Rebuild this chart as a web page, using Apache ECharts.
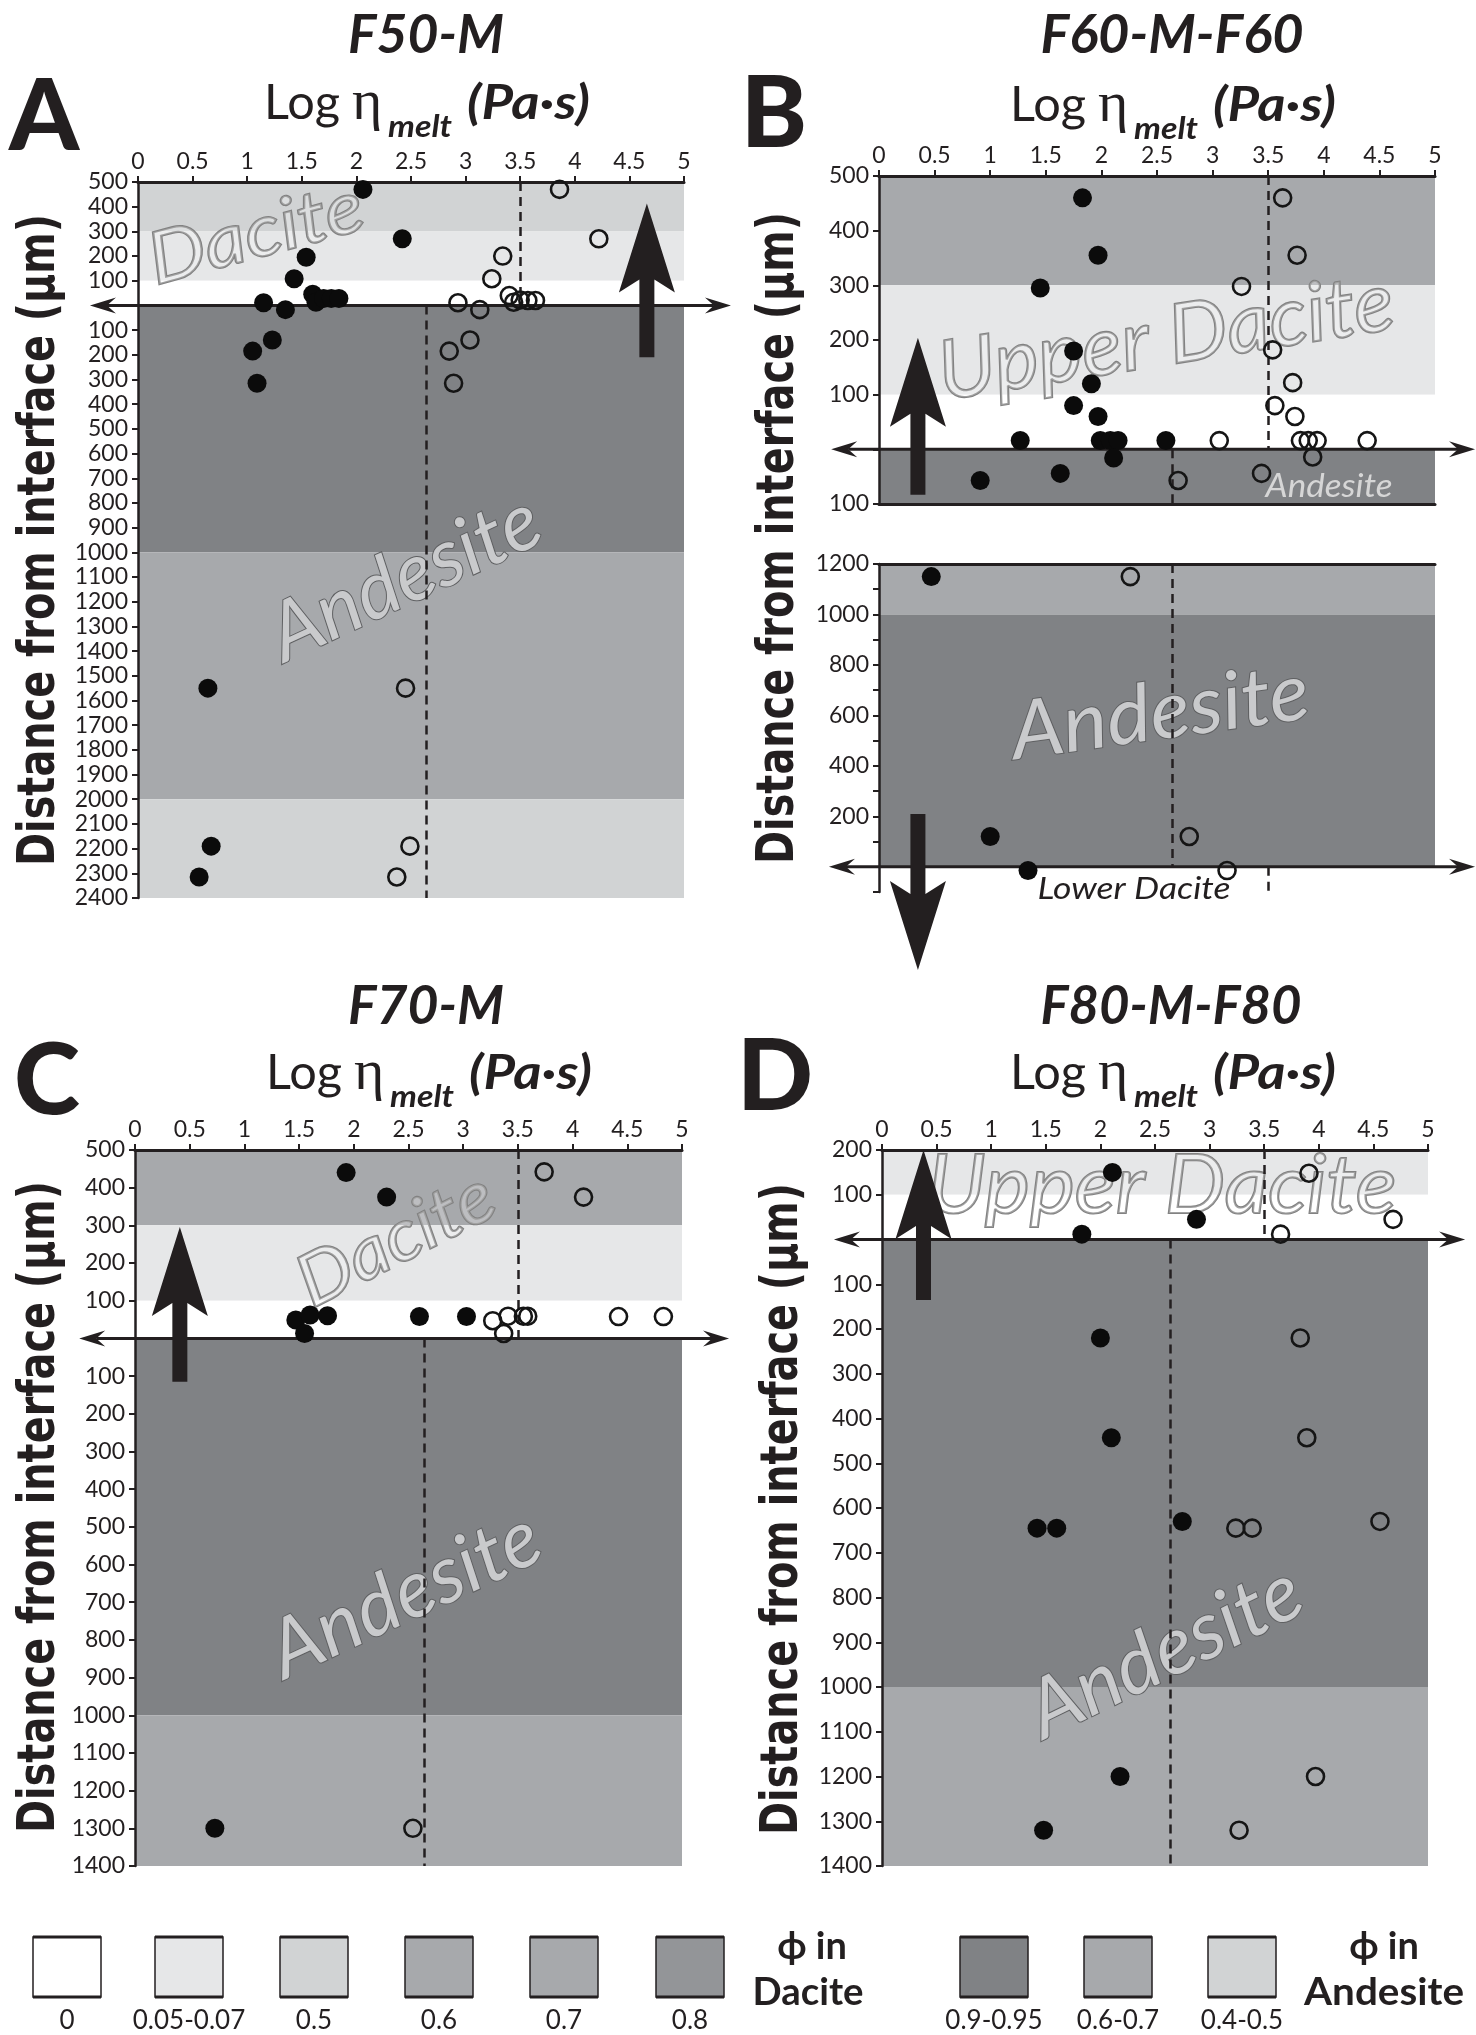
<!DOCTYPE html>
<html><head><meta charset="utf-8">
<script src="https://cdn.jsdelivr.net/npm/echarts@6/dist/echarts.min.js"></script>
<style>html,body{margin:0;padding:0;background:#fff}#c{width:1476px;height:2035px}</style>
</head><body><div id="c"></div>
<script>
// ================= DATA =================
const panelIds = ['A', 'Bu', 'Bl', 'C', 'D'];
const panelTitles = ['F50-M', 'F60-M-F60', 'F70-M', 'F80-M-F80'];
const panelLetters = ['A', 'B', 'C', 'D'];
const xTitleMain = 'Log η';
const xTitleSub = 'melt';
const xTitleUnit = '(Pa·s)';
const yTitle = 'Distance from interface (μm)';

const xRange = [0, 5];
const xStep = 0.5;
const yStep = 100;
const yRangeA = [-2400, 500];
const yRangeBu = [-100, 500];
const yRangeBl = [-100, 1200];
const yRangeC = [-1400, 500];
const yRangeD = [-1400, 200];

// viscosity thresholds (dashed lines)
const daciteLimit = 3.5;
const andesiteLimit = 2.64;

// legend keys (crystal fraction)
const daciteKeys = ['0', '0.05-0.07', '0.5', '0.6', '0.7', '0.8'];
const andesiteKeys = ['0.9-0.95', '0.6-0.7', '0.4-0.5'];

// bands: [from, to, rock, phi key]
const bandsA = [[500, 300, 'D', '0.5'], [300, 100, 'D', '0.05-0.07'], [100, 0, 'D', '0'],
  [0, -1000, 'A', '0.9-0.95'], [-1000, -2000, 'A', '0.6-0.7'], [-2000, -2400, 'A', '0.4-0.5']];
const bandsBu = [[500, 300, 'D', '0.6'], [300, 100, 'D', '0.05-0.07'], [100, 0, 'D', '0'], [0, -100, 'A', '0.9-0.95']];
const bandsBl = [[1200, 1000, 'A', '0.6-0.7'], [1000, 0, 'A', '0.9-0.95'], [0, -100, 'D', '0']];
const bandsC = [[500, 300, 'D', '0.7'], [300, 100, 'D', '0.05-0.07'], [100, 0, 'D', '0'],
  [0, -1000, 'A', '0.9-0.95'], [-1000, -1400, 'A', '0.6-0.7']];
const bandsD = [[200, 100, 'D', '0.05-0.07'], [100, 0, 'D', '0'], [0, -1000, 'A', '0.9-0.95'], [-1000, -1400, 'A', '0.6-0.7']];

// dashed threshold segments: [x, yFrom, yTo]
const dashA = [[daciteLimit, 500, 0], [andesiteLimit, 0, -2400]];
const dashBu = [[daciteLimit, 500, 0], [andesiteLimit, 0, -100]];
const dashBl = [[andesiteLimit, 1200, 0], [daciteLimit, 0, -100]];
const dashC = [[daciteLimit, 500, 0], [andesiteLimit, 0, -1400]];
const dashD = [[daciteLimit, 200, 0], [andesiteLimit, 0, -1400]];

// points: [log viscosity, distance (+ dacite side, - andesite side)]
const filledA = [[2.06, 470], [2.42, 270], [1.54, 195], [1.43, 108], [1.15, 11], [1.35, -17], [1.60, 45], [1.63, 13],
  [1.70, 28], [1.77, 28], [1.84, 28], [1.23, -140], [1.05, -185], [1.09, -315], [0.64, -1550], [0.67, -2190], [0.56, -2315]];
const openA = [[3.86, 470], [4.22, 270], [3.34, 200], [3.24, 108], [2.93, 11], [3.13, -17], [3.40, 40], [3.44, 13],
  [3.50, 22], [3.57, 20], [3.64, 20], [3.04, -140], [2.85, -185], [2.89, -315], [2.45, -1550], [2.49, -2190], [2.37, -2315]];

const filledBu = [[1.83, 460], [1.97, 355], [1.45, 295], [1.75, 180], [1.91, 120], [1.75, 80], [1.97, 60], [1.27, 16],
  [1.99, 16], [2.08, 16], [2.15, 16], [2.58, 16], [2.11, -16], [1.63, -44], [0.91, -57]];
const openBu = [[3.63, 460], [3.76, 355], [3.26, 298], [3.54, 182], [3.72, 122], [3.56, 80], [3.74, 60], [3.06, 16],
  [3.79, 16], [3.86, 16], [3.94, 16], [4.39, 16], [3.90, -14], [3.44, -44], [2.69, -57]];

const filledBl = [[0.47, 1150], [1.00, 120], [1.34, -15]];
const openBl = [[2.26, 1150], [2.79, 120], [3.13, -15]];

const filledC = [[1.93, 440], [2.30, 375], [1.47, 49], [1.60, 62], [1.76, 60], [1.55, 13], [2.60, 58], [3.03, 58], [0.73, -1300]];
const openC = [[3.74, 442], [4.10, 375], [3.27, 47], [3.41, 59], [3.55, 59], [3.59, 59], [3.37, 13], [4.42, 58], [4.83, 58], [2.54, -1300]];

const filledD = [[2.11, 150], [2.88, 45], [1.83, 12], [2.00, -220], [2.10, -443], [1.42, -645], [1.60, -645], [2.75, -630], [2.18, -1200], [1.48, -1320]];
const openD = [[3.91, 148], [4.68, 45], [3.65, 12], [3.83, -220], [3.89, -443], [3.24, -645], [3.39, -645], [4.56, -630], [3.97, -1200], [3.27, -1320]];

// interface arrow extents in x data units
const interfaceA = [-0.44, 5.43];
const interfaceBu = [-0.43, 5.36];
const interfaceBl = [-0.45, 5.36];
const interfaceC = [-0.51, 5.43];
const interfaceD = [-0.44, 5.34];

// big direction arrows: [x, tail y, tip y]
const arrowA = [4.66, -210, 413];
const arrowBu = [0.35, -83, 204];
const arrowBl = [0.35, 209, -409];
const arrowC = [0.41, -115, 296];
const arrowD = [0.38, -135, 200];

// ================= STYLE =================
const INK = '#231f20';
const FONT = 'Lato, "Noto Sans", sans-serif';
const phiColor = {
  D: {'0': '#ffffff', '0.05-0.07': '#e6e7e8', '0.5': '#d1d3d4', '0.6': '#a7a9ac', '0.7': '#a7a9ac', '0.8': '#939598'},
  A: {'0.9-0.95': '#808285', '0.6-0.7': '#a7a9ac', '0.4-0.5': '#d1d3d4'}
};
const gridBoxes = [
  {left: 138, top: 182, width: 546, height: 716},
  {left: 879, top: 176, width: 556, height: 328},
  {left: 879, top: 564, width: 556, height: 328},
  {left: 135, top: 1150, width: 547, height: 716},
  {left: 882, top: 1150, width: 546, height: 716}
];
const yRanges = [yRangeA, yRangeBu, yRangeBl, yRangeC, yRangeD];
const bands = [bandsA, bandsBu, bandsBl, bandsC, bandsD];
const dashes = [dashA, dashBu, dashBl, dashC, dashD];
const filled = [filledA, filledBu, filledBl, filledC, filledD];
const opens = [openA, openBu, openBl, openC, openD];
const interfaces = [interfaceA, interfaceBu, interfaceBl, interfaceC, interfaceD];
const arrows = [arrowA, arrowBu, arrowBl, arrowC, arrowD];

const absFmt = v => (v === 0 ? '' : String(Math.abs(v)));
const lowerFmt = v => (v > 0 && v % 200 === 0 ? String(v) : '');

const chart = echarts.init(document.getElementById('c'), null, {renderer: 'canvas', width: 1476, height: 2035});

const xAxes = gridBoxes.map((g, i) => ({
  gridIndex: i, type: 'value', position: 'top', min: xRange[0], max: xRange[1], interval: xStep, z: 6,
  axisLine: {show: true, onZero: false, lineStyle: {color: INK, width: 3}},
  axisTick: {show: i !== 2, length: 6, lineStyle: {color: INK, width: 2}},
  axisLabel: {show: i !== 2, fontSize: 23, color: INK, fontFamily: FONT, margin: 9, hideOverlap: false},
  splitLine: {show: false}
}));
xAxes.push({
  gridIndex: 1, type: 'value', position: 'bottom', min: xRange[0], max: xRange[1], interval: xStep, z: 6,
  axisLine: {show: true, onZero: false, lineStyle: {color: INK, width: 3}},
  axisTick: {show: false}, axisLabel: {show: false}, splitLine: {show: false}
});

const yAxes = gridBoxes.map((g, i) => ({
  gridIndex: i, type: 'value', min: yRanges[i][0], max: yRanges[i][1], interval: yStep, z: 6,
  axisLine: {show: true, onZero: false, lineStyle: {color: INK, width: 2.5}},
  axisTick: {show: true, length: 6, lineStyle: {color: INK, width: 2}},
  axisLabel: {fontSize: 23, color: INK, fontFamily: FONT, margin: 10, hideOverlap: false,
    formatter: i === 2 ? lowerFmt : absFmt},
  splitLine: {show: false}
}));

const series = [];
gridBoxes.forEach((g, i) => {
  series.push({
    type: 'scatter', xAxisIndex: i, yAxisIndex: i, data: [], silent: true, z: 1,
    markArea: {silent: true, animation: false,
      data: bands[i].map(b => [{yAxis: b[0], itemStyle: {color: phiColor[b[2]][b[3]], opacity: 1, borderWidth: 0}}, {yAxis: b[1]}])}
  });
  series.push({
    type: 'scatter', xAxisIndex: i, yAxisIndex: i, data: [], silent: true, z: 3,
    markLine: {silent: true, animation: false, symbol: ['none', 'none'], label: {show: false},
      lineStyle: {color: INK, width: 2.5, type: [9, 6], opacity: 1},
      emphasis: {disabled: true},
      data: dashes[i].map(s => [{coord: [s[0], s[1]]}, {coord: [s[0], s[2]]}])}
  });
  series.push({
    type: 'scatter', xAxisIndex: i, yAxisIndex: i, data: filled[i], z: 8, silent: true,
    symbol: 'circle', symbolSize: 19, itemStyle: {color: '#0b0b0b', opacity: 1}
  });
  series.push({
    type: 'scatter', xAxisIndex: i, yAxisIndex: i, data: opens[i], z: 8, silent: true,
    symbol: 'circle', symbolSize: 17, itemStyle: {color: 'rgba(255,255,255,0)', borderColor: '#151515', borderWidth: 2.6, opacity: 1}
  });
});

chart.setOption({
  animation: false,
  backgroundColor: '#ffffff',
  grid: gridBoxes.map(g => Object.assign({outerBoundsMode: 'none', containLabel: false}, g)),
  xAxis: xAxes,
  yAxis: yAxes,
  series: series
});

// ================= ANNOTATIONS =================
const mctx = document.createElement('canvas').getContext('2d');
function measure(text, font) { mctx.font = font; return mctx.measureText(text).width; }
function txt(o) {
  const fam = o.family || FONT;
  const font = `${o.style || 'normal'} ${o.weight || 'normal'} ${o.size}px ${fam}`;
  let sx = 1;
  if (o.width) sx = o.width / measure(o.text, font);
  return {
    type: 'text', x: o.x, y: o.y, rotation: (o.rot || 0) * Math.PI / 180, scaleX: sx, z: o.z || 7, silent: true,
    style: {text: o.text, fontSize: o.size, fontFamily: fam, fontWeight: o.weight || 'normal', fontStyle: o.style || 'normal',
      fill: o.fill || INK, stroke: o.stroke || null, lineWidth: o.lw || 0,
      align: o.align || 'center', verticalAlign: 'middle'}
  };
}

const g = [];
// interface double arrows and big arrows
gridBoxes.forEach((b, i) => {
  const p0 = chart.convertToPixel({gridIndex: i}, [interfaces[i][0], 0]);
  const p1 = chart.convertToPixel({gridIndex: i}, [interfaces[i][1], 0]);
  const y = p0[1], L = 26, H = 8, N = 9;
  g.push({type: 'line', z: 7, silent: true, shape: {x1: p0[0] + L - N, y1: y, x2: p1[0] - L + N, y2: y}, style: {stroke: INK, lineWidth: 3}});
  g.push({type: 'polygon', z: 7, silent: true, shape: {points: [[p0[0], y], [p0[0] + L, y - H], [p0[0] + L - N, y], [p0[0] + L, y + H]]}, style: {fill: INK}});
  g.push({type: 'polygon', z: 7, silent: true, shape: {points: [[p1[0], y], [p1[0] - L, y - H], [p1[0] - L + N, y], [p1[0] - L, y + H]]}, style: {fill: INK}});

  const a = arrows[i];
  const tip = chart.convertToPixel({gridIndex: i}, [a[0], a[2]]);
  const tail = chart.convertToPixel({gridIndex: i}, [a[0], a[1]]);
  const tx = tip[0], ty = tip[1], by = tail[1], d = Math.sign(by - ty);
  const hl = 89, hw = 28, nt = 13, sw = 7.5;
  g.push({type: 'polygon', z: 7, silent: true, shape: {points: [[tx, ty], [tx - hw, ty + d * hl], [tx - sw, ty + d * (hl - nt)], [tx - sw, by],
    [tx + sw, by], [tx + sw, ty + d * (hl - nt)], [tx + hw, ty + d * hl]]}, style: {fill: INK}});
});

// titles
const titlePos = [[426, 36], [1172, 36], [426, 1007], [1171, 1007]];
const titleW = [156, 263, 156, 261];
panelTitles.forEach((t, i) => g.push(txt({text: t, x: titlePos[i][0], y: titlePos[i][1], size: 54, weight: 'bold', style: 'italic', width: titleW[i]})));
// panel letters
const letterPos = [[44, 118], [774, 115], [47, 1082], [775, 1078]];
panelLetters.forEach((t, i) => g.push(txt({text: t, x: letterPos[i][0], y: letterPos[i][1], size: 100, weight: '900'})));
// Log eta titles
const logPos = [[264, 122], [1010, 124], [266, 1092], [1010, 1092]];
logPos.forEach(p => {
  g.push(txt({text: 'Log', x: p[0], y: p[1] - 18, size: 48, align: 'left', width: 76}));
  g.push(txt({text: 'η', x: p[0] + 88, y: p[1] - 18, size: 58, family: '"Liberation Serif", "DejaVu Serif", serif', align: 'left'}));
  g.push(txt({text: xTitleSub, x: p[0] + 124, y: p[1] + 5, size: 30, weight: 'bold', style: 'italic', align: 'left', width: 64}));
  g.push(txt({text: xTitleUnit, x: p[0] + 203, y: p[1] - 18, size: 48, weight: 'bold', style: 'italic', align: 'left', width: 123}));
});
// y titles
const yTitlePos = [[40, 540], [779, 538], [40, 1507], [783, 1509]];
yTitlePos.forEach(p => g.push(txt({text: yTitle, x: p[0], y: p[1], size: 52, weight: 'bold', family: '"DejaVu Sans", sans-serif', rot: 90, width: 652})));

// rock watermarks
const dacStyle = {style: 'italic', fill: 'rgba(255,255,255,0.25)', stroke: '#828282', lw: 2.2, z: 2};
const andStyle = {style: 'italic', fill: '#c9cacc', stroke: '#5f6062', lw: 2, z: 2};
const marks = [
  Object.assign({text: 'Dacite', x: 256, y: 234, rot: 15, size: 72, width: 220}, dacStyle),
  Object.assign({text: 'Andesite', x: 405, y: 578, rot: 25, size: 80, width: 290}, andStyle),
  Object.assign({text: 'Upper Dacite', x: 1166, y: 338, rot: 9, size: 82, width: 460}, dacStyle),
  Object.assign({text: 'Andesite', x: 1160, y: 713, rot: 8, size: 80, width: 300}, andStyle),
  Object.assign({text: 'Dacite', x: 396, y: 1240, rot: 27, size: 72, width: 212}, dacStyle),
  Object.assign({text: 'Andesite', x: 405, y: 1595, rot: 25, size: 80, width: 290}, andStyle),
  Object.assign({text: 'Upper Dacite', x: 1162, y: 1187, rot: 0, size: 82, width: 469}, dacStyle),
  Object.assign({text: 'Andesite', x: 1165, y: 1652, rot: 26, size: 80, width: 295}, andStyle)
];
marks.forEach(m => g.push(txt(m)));
g.push(txt({text: 'Andesite', x: 1329, y: 487, size: 32, style: 'italic', fill: '#d6d6d6', width: 127, z: 2}));
g.push(txt({text: 'Lower Dacite', x: 1134, y: 889, size: 30, style: 'italic', width: 193, z: 7}));

// legend
const dacBoxX = [33, 155, 280, 405, 530, 656];
const andBoxX = [960, 1084, 1208];
function legendBox(x, color, label) {
  g.push({type: 'rect', z: 7, silent: true, shape: {x: x, y: 1937, width: 68, height: 60}, style: {fill: color, stroke: INK, lineWidth: 1.5}});
  g.push({type: 'line', z: 7, silent: true, shape: {x1: x, y1: 1937, x2: x + 68, y2: 1937}, style: {stroke: INK, lineWidth: 3}});
  g.push({type: 'line', z: 7, silent: true, shape: {x1: x, y1: 1997, x2: x + 68, y2: 1997}, style: {stroke: INK, lineWidth: 3}});
  g.push(txt({text: label, x: x + 34, y: 2021, size: 26}));
}
daciteKeys.forEach((k, i) => legendBox(dacBoxX[i], phiColor.D[k], k));
andesiteKeys.forEach((k, i) => legendBox(andBoxX[i], phiColor.A[k], k));
g.push(txt({text: 'ϕ in', x: 812, y: 1947, size: 38, weight: 'bold'}));
g.push(txt({text: 'Dacite', x: 808, y: 1993, size: 38, weight: 'bold', width: 111}));
g.push(txt({text: 'ϕ in', x: 1384, y: 1947, size: 38, weight: 'bold'}));
g.push(txt({text: 'Andesite', x: 1384, y: 1993, size: 38, weight: 'bold', width: 160}));

chart.setOption({graphic: {elements: g}});
</script>
</body></html>
